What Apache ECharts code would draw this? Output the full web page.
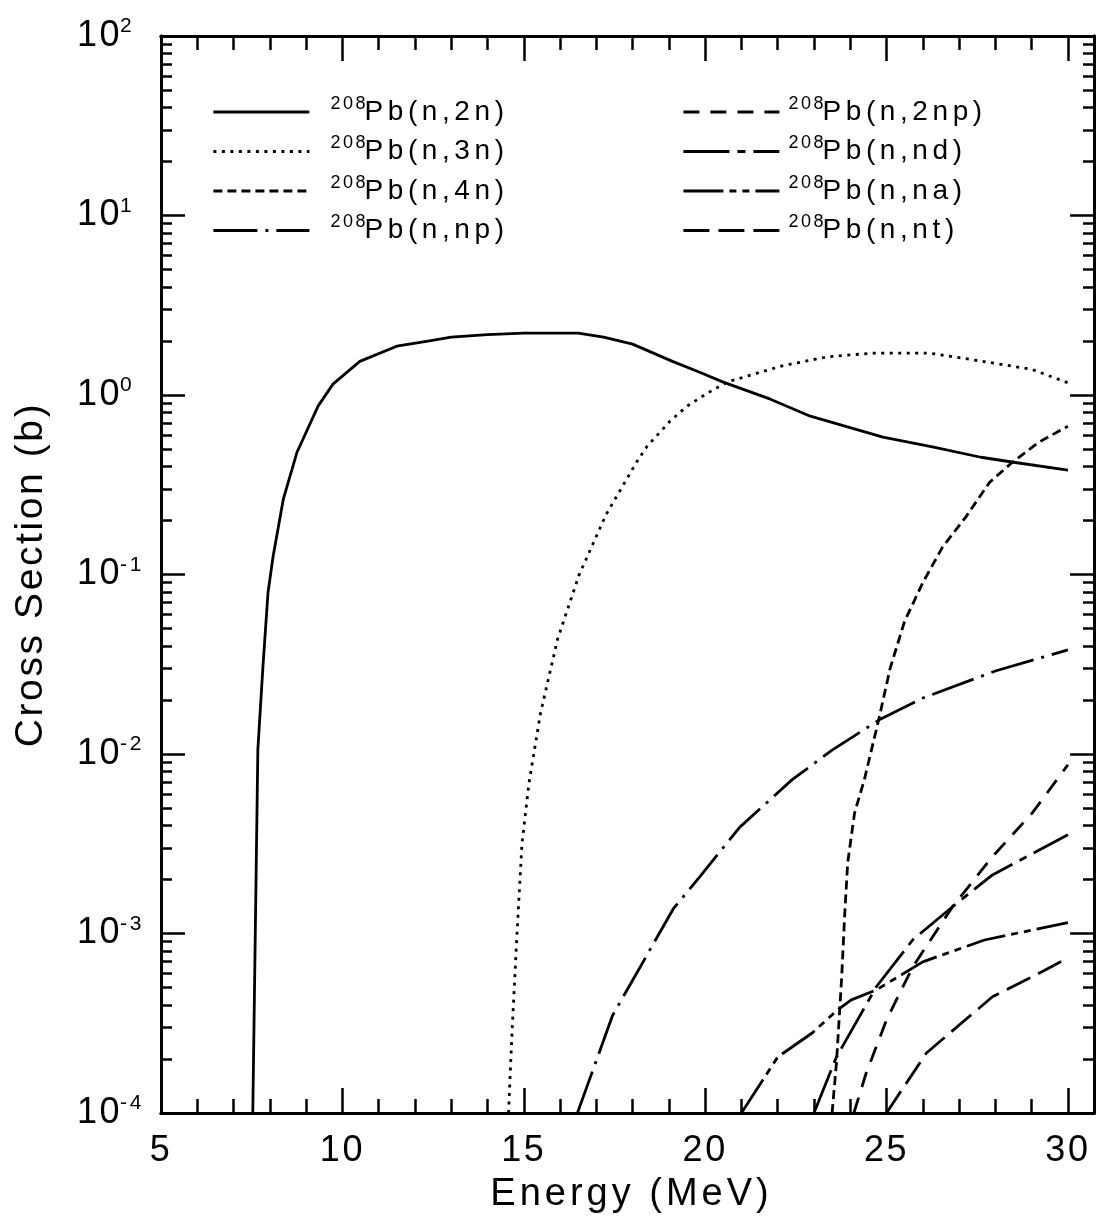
<!DOCTYPE html>
<html><head><meta charset="utf-8">
<script src="https://cdn.jsdelivr.net/npm/echarts@6/dist/echarts.min.js"></script>
<style>html,body{margin:0;padding:0;background:#fff}#c{width:1101px;height:1222px}</style>
</head><body><div id="c"></div>
<script>
// ---- data (energy in MeV, cross section in barns) ----
const seriesNames = ['208Pb(n,2n)','208Pb(n,3n)','208Pb(n,4n)','208Pb(n,np)','208Pb(n,2np)','208Pb(n,nd)','208Pb(n,na)','208Pb(n,nt)'];
const E_2n = [7.53, 7.67, 7.81, 7.95, 8.09, 8.37, 8.75, 9.33, 9.74, 10.48, 11.5, 12.4, 13.0, 14.0, 15.0, 16.5, 17.2, 18.0, 19.1, 19.85, 20.5, 21.8, 22.9, 24.9, 26.3, 27.6, 28.5, 30.0];
const S_2n = [1e-4, 0.0106, 0.0307, 0.0794, 0.126, 0.262, 0.48, 0.867, 1.15, 1.54, 1.87, 2.0, 2.1, 2.17, 2.21, 2.21, 2.1, 1.92, 1.54, 1.34, 1.18, 0.948, 0.762, 0.582, 0.512, 0.45, 0.422, 0.381];
const E_3n = [14.58, 14.68, 14.81, 14.95, 15.14, 15.46, 15.93, 16.53, 17.27, 18.1, 18.4, 19.03, 19.5, 20.05, 20.6, 22.1, 23.35, 24.6, 26.2, 27.65, 29.0, 30.0];
const S_3n = [1e-4, 2.9e-4, 9.6e-4, 3.16e-3, 6.8e-3, 0.0168, 0.0435, 0.1, 0.216, 0.419, 0.518, 0.714, 0.866, 1.02, 1.18, 1.45, 1.63, 1.71, 1.71, 1.54, 1.39, 1.17];
const E_4n = [23.5, 23.62, 23.76, 23.85, 23.93, 24.12, 24.39, 24.8, 25.1, 25.5, 26.0, 26.54, 27.2, 27.84, 28.47, 29.2, 30.0];
const S_4n = [1e-4, 1.9e-4, 5.5e-4, 1.3e-3, 2.48e-3, 4.7e-3, 7.2e-3, 0.016, 0.03, 0.055, 0.09, 0.1416, 0.211, 0.326, 0.422, 0.546, 0.67];
const E_np = [16.48, 17.45, 18.1, 19.12, 19.85, 20.95, 22.4, 23.5, 24.8, 26.0, 28.0, 30.0];
const S_np = [1e-4, 3.5e-4, 5.95e-4, 1.37e-3, 2.07e-3, 3.9e-3, 7.2e-3, 0.0105, 0.0155, 0.0205, 0.029, 0.038];
const E_2np = [24.1, 24.44, 25.0, 25.72, 26.82, 27.92, 29.02, 30.0];
const S_2np = [1e-4, 1.67e-4, 3.3e-4, 6.5e-4, 1.41e-3, 2.68e-3, 4.7e-3, 8.7e-3];
const E_nd = [23.0, 23.62, 24.72, 25.72, 26.82, 27.92, 30.0];
const S_nd = [1e-4, 2.05e-4, 5.05e-4, 9.2e-4, 1.41e-3, 2.12e-3, 3.55e-3];
const E_na = [21.0, 22.0, 22.96, 23.65, 24.03, 24.72, 26.0, 27.7, 30.0];
const S_na = [1e-4, 2.05e-4, 2.8e-4, 3.75e-4, 4.27e-4, 4.85e-4, 6.95e-4, 9.2e-4, 1.15e-3];
const E_nt = [25.0, 26.1, 27.92, 29.02, 30.0];
const S_nt = [1e-4, 2.16e-4, 4.44e-4, 5.74e-4, 7.3e-4];

const xTickLabels = [5, 10, 15, 20, 25, 30];
const yDecades = [1e-4, 1e-3, 1e-2, 1e-1, 1, 10];
const yMinorMultipliers = [2, 3, 4, 5, 6, 7, 8, 9];

const FONT = '"Liberation Sans", Arial, Helvetica, sans-serif';

// wide letter tracking, as in the original typesetting (keyed by font size in px)
const TRACKING = {28: 4.6, 38: 4.0, 39: 2.6};
(function () {
  const proto = CanvasRenderingContext2D.prototype;
  if (!('letterSpacing' in proto)) return;
  const orig = proto.fillText;
  proto.fillText = function (t, x, y, w) {
    const m = /(\d+(?:\.\d+)?)px/.exec(this.font || '');
    const ls = m ? (TRACKING[Math.round(+m[1])] || 0) : 0;
    if (ls) {
      const prev = this.letterSpacing;
      this.letterSpacing = ls + 'px';
      const r = w === undefined ? orig.call(this, t, x, y) : orig.call(this, t, x, y, w);
      this.letterSpacing = prev;
      return r;
    }
    return w === undefined ? orig.call(this, t, x, y) : orig.call(this, t, x, y, w);
  };
})();

const zip = (xs, ys) => xs.map((x, i) => [x, ys[i]]);
const yMinorValues = [];
yDecades.forEach(d => yMinorMultipliers.forEach(m => yMinorValues.push(+(d * m).toPrecision(3))));

const styles = [
  {type: 'solid'},
  {type: [3, 5.5], cap: 'butt'},
  {type: [9, 5]},
  {type: [44, 8, 3, 8]},
  {type: [16, 11]},
  {type: [46, 8, 8, 8]},
  {type: [40, 6, 7, 6, 7, 6]},
  {type: [26, 9]}
];
const dataSets = [
  zip(E_2n, S_2n), zip(E_3n, S_3n), zip(E_4n, S_4n), zip(E_np, S_np),
  zip(E_2np, S_2np), zip(E_nd, S_nd), zip(E_na, S_na), zip(E_nt, S_nt)
];

const series = seriesNames.map((n, i) => ({
  name: n,
  type: 'line',
  data: dataSets[i],
  symbol: 'none',
  showSymbol: false,
  smooth: false,
  clip: true,
  xAxisIndex: 0, yAxisIndex: 0,
  lineStyle: {color: '#000', width: 2.8, type: styles[i].type, cap: styles[i].cap || 'butt', join: 'round'},
  itemStyle: {color: '#000'},
  emphasis: {disabled: true},
  z: 3
}));

const legendText = {
  fontFamily: FONT, color: '#000',
  rich: {
    s: {fontFamily: FONT, fontSize: 18, lineHeight: 19, verticalAlign: 'top', color: '#000'},
    t: {fontFamily: FONT, fontSize: 28, lineHeight: 34, color: '#000', padding: [0, 0, 0, 4]}
  }
};
const legendFmt = n => '{s|' + n.slice(0, 3) + '}{t|' + n.slice(3) + '}';
const legendItemStyle = {color: 'rgba(0,0,0,0)', borderColor: 'rgba(0,0,0,0)', borderWidth: 0};
const legendLineStyle = {width: 2.8, color: '#000'};

const axisLineStyle = {color: '#000', width: 3};
const tickStyle = {color: '#000', width: 2.5};
const X_MIN = 5, X_MAX = 30.72;
const xBase = {type: 'value', min: X_MIN, max: X_MAX, splitLine: {show: false},
  axisLine: {show: true, lineStyle: axisLineStyle, onZero: false}};
const yBase = {type: 'log', logBase: 10, min: 1e-4, max: 100, splitLine: {show: false},
  axisLine: {show: true, lineStyle: axisLineStyle, onZero: false}};

const option = {
  backgroundColor: '#fff',
  animation: false,
  grid: {left: 161, right: 7, top: 36, bottom: 109, containLabel: false},
  legend: [
    {data: seriesNames.slice(0, 4), orient: 'vertical', left: 212, top: 95, padding: 0,
     itemWidth: 96, itemHeight: 14, itemGap: 8.5,
     itemStyle: legendItemStyle, lineStyle: legendLineStyle,
     textStyle: Object.assign({padding: [0, 0, 0, 16]}, legendText), formatter: legendFmt, selectedMode: false},
    {data: seriesNames.slice(4), orient: 'vertical', left: 682, top: 95, padding: 0,
     itemWidth: 96, itemHeight: 14, itemGap: 8.5,
     itemStyle: legendItemStyle, lineStyle: legendLineStyle,
     textStyle: Object.assign({padding: [0, 0, 0, 4]}, legendText), formatter: legendFmt, selectedMode: false}
  ],
  xAxis: [
    Object.assign({}, xBase, {position: 'bottom', interval: 1,
      name: 'Energy (MeV)', nameLocation: 'middle', nameGap: 63,
      nameTextStyle: {fontFamily: FONT, fontSize: 38, color: '#000', padding: [0, 0, 0, 8]},
      axisTick: {show: true, inside: true, length: 14, lineStyle: tickStyle},
      axisLabel: {show: true, margin: 20, fontFamily: FONT, fontSize: 36, color: '#000',
        formatter: v => xTickLabels.indexOf(v) >= 0 ? String(v) : ''}}),
    Object.assign({}, xBase, {position: 'bottom', interval: 5,
      axisTick: {show: true, inside: true, length: 25, lineStyle: tickStyle},
      axisLabel: {show: false}}),
    Object.assign({}, xBase, {position: 'top', interval: 1,
      axisTick: {show: true, inside: true, length: 14, lineStyle: tickStyle},
      axisLabel: {show: false}}),
    Object.assign({}, xBase, {position: 'top', interval: 5,
      axisTick: {show: true, inside: true, length: 25, lineStyle: tickStyle},
      axisLabel: {show: false}})
  ],
  yAxis: [
    Object.assign({}, yBase, {position: 'left',
     name: 'Cross Section (b)', nameLocation: 'middle', nameGap: 110, nameRotate: 90,
     nameTextStyle: {fontFamily: FONT, fontSize: 39, color: '#000'},
     axisTick: {show: true, inside: true, length: 24, lineStyle: tickStyle},
     axisLabel: {show: true, align: 'left', margin: 84, fontFamily: FONT, color: '#000',
       formatter: v => '{b|10}{e|' + Math.round(Math.log10(v)) + '}',
       rich: {b: {fontFamily: FONT, fontSize: 36, lineHeight: 40, color: '#000'},
              e: {fontFamily: FONT, fontSize: 21, lineHeight: 24, verticalAlign: 'top', color: '#000', padding: [0, 0, 0, 3]}}}}),
    Object.assign({}, yBase, {position: 'right',
     axisTick: {show: true, inside: true, length: 24, lineStyle: tickStyle},
     axisLabel: {show: false}}),
    Object.assign({}, yBase, {position: 'left',
     axisTick: {show: true, inside: true, length: 11, lineStyle: tickStyle, customValues: yMinorValues},
     axisLabel: {show: false}}),
    Object.assign({}, yBase, {position: 'right',
     axisTick: {show: true, inside: true, length: 11, lineStyle: tickStyle, customValues: yMinorValues},
     axisLabel: {show: false}})
  ],
  series: series
};

const chart = echarts.init(document.getElementById('c'), null, {renderer: 'canvas'});
chart.setOption(option);
</script>
</body></html>
